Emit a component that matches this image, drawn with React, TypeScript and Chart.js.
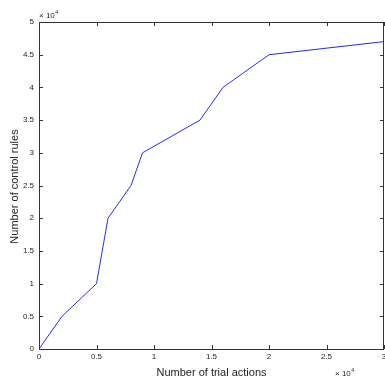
import React, { useEffect, useRef } from "react";
import { Chart, registerables } from "chart.js";

Chart.register(...registerables);

const trialActions = [0, 2000, 5000, 6000, 8000, 9000, 14000, 16000, 20000, 30000];
const controlRules = [0, 5000, 10000, 20000, 25000, 30000, 35000, 40000, 45000, 47000];
const xTitle = "Number of trial actions";
const yTitle = "Number of control rules";

const FONT = "'Liberation Sans', Arial, sans-serif";
const AXIS_COLOR = "#333333";

const boxPlugin = {
  id: "matlabBox",
  afterDraw(chart: any) {
    const { ctx, chartArea } = chart;
    const { left, right, top, bottom } = chartArea;
    const xs = chart.scales.x;
    const ys = chart.scales.y;
    ctx.save();
    ctx.strokeStyle = AXIS_COLOR;
    ctx.lineWidth = 1;
    ctx.beginPath();
    ctx.rect(Math.round(left) + 0.5, Math.round(top) + 0.5, Math.round(right - left) - 1, Math.round(bottom - top));
    ctx.stroke();
    const tl = 4;
    ctx.beginPath();
    xs.ticks.forEach((t: any) => {
      const px = Math.round(xs.getPixelForValue(t.value)) + 0.5;
      ctx.moveTo(px, bottom);
      ctx.lineTo(px, bottom - tl);
      ctx.moveTo(px, top);
      ctx.lineTo(px, top + tl);
    });
    ys.ticks.forEach((t: any) => {
      const py = Math.round(ys.getPixelForValue(t.value)) + 0.5;
      ctx.moveTo(left, py);
      ctx.lineTo(left + tl, py);
      ctx.moveTo(right, py);
      ctx.lineTo(right - tl, py);
    });
    ctx.stroke();

    ctx.fillStyle = "#222";
    ctx.font = `11px ${FONT}`;
    ctx.textAlign = "center";
    ctx.textBaseline = "middle";
    ctx.fillText(xTitle, (left + right) / 2, 373);
    ctx.save();
    ctx.translate(15, (top + bottom) / 2 + 1);
    ctx.rotate(-Math.PI / 2);
    ctx.fillText(yTitle, 0, 0);
    ctx.restore();

    const drawExp = (x: number, y: number) => {
      ctx.textAlign = "left";
      ctx.textBaseline = "alphabetic";
      ctx.font = `8px ${FONT}`;
      ctx.fillText("\u00d7 10", x, y);
      const w = ctx.measureText("\u00d7 10").width;
      ctx.font = `5px ${FONT}`;
      ctx.fillText("4", x + w + 0.5, y - 4);
    };
    drawExp(39, 18);
    drawExp(335, 376);
    ctx.restore();
  },
};

export default function App() {
  const ref = useRef<HTMLCanvasElement | null>(null);
  useEffect(() => {
    document.body.style.margin = "0";
    const canvas = ref.current!;
    const chart = new Chart(canvas, {
      type: "scatter",
      data: {
        datasets: [
          {
            data: trialActions.map((x, i) => ({ x, y: controlRules[i] })),
            showLine: true,
            borderColor: "rgb(40,40,255)",
            borderWidth: 1,
            pointRadius: 0,
            fill: false,
            tension: 0,
          },
        ],
      },
      options: {
        animation: false,
        responsive: false,
        devicePixelRatio: 1,
        layout: { padding: { top: 22, right: 1, left: 0, bottom: 0 } },
        plugins: { legend: { display: false }, tooltip: { enabled: false } },
        scales: {
          x: {
            type: "linear",
            min: 0,
            max: 30000,
            border: { display: false },
            grid: { display: false, drawTicks: false },
            ticks: {
              stepSize: 5000,
              padding: 3,
              maxRotation: 0,
              autoSkip: false,
              color: "#222",
              font: { family: FONT, size: 8 },
              callback: (v: any) => String(Number(v) / 10000),
            },
            afterFit: (s: any) => {
              s.height = 32;
              s.paddingLeft = 0;
              s.paddingRight = 0;
            },
          },
          y: {
            type: "linear",
            min: 0,
            max: 50000,
            border: { display: false },
            grid: { display: false, drawTicks: false },
            ticks: {
              stepSize: 5000,
              padding: 5,
              autoSkip: false,
              color: "#222",
              font: { family: FONT, size: 8 },
              callback: (v: any) => String(Number(v) / 10000),
            },
            afterFit: (s: any) => {
              s.width = 39;
              s.paddingTop = 0;
              s.paddingBottom = 0;
            },
          },
        },
      },
      plugins: [boxPlugin],
    });
    return () => chart.destroy();
  }, []);
  return (
    <div style={{ width: 385, height: 381, background: "#fff" }}>
      <canvas ref={ref} width={385} height={381} />
    </div>
  );
}
